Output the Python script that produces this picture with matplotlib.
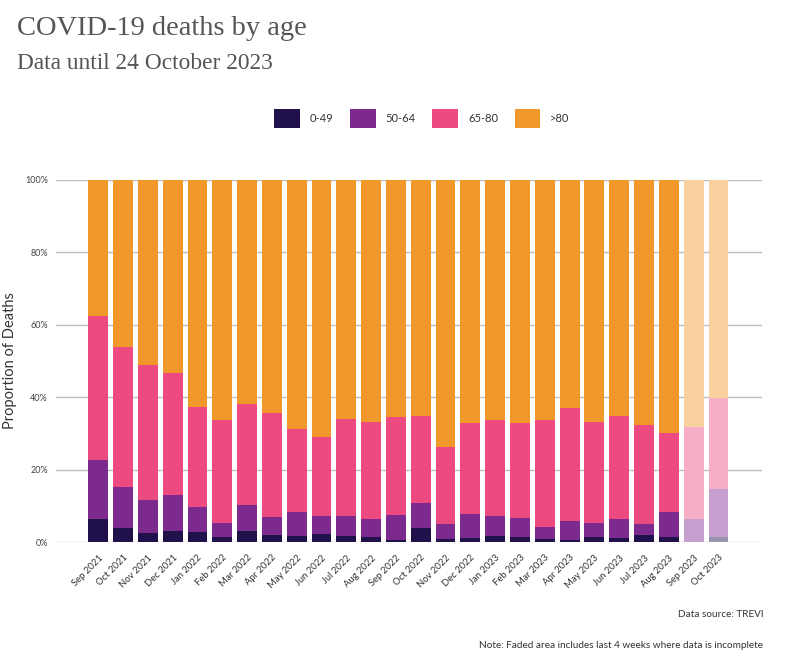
import numpy as np
import matplotlib.pyplot as plt
from matplotlib.patches import Patch
from matplotlib.colors import to_rgb

# Data (share of deaths per month, %)
months = ['Sep 2021', 'Oct 2021', 'Nov 2021', 'Dec 2021', 'Jan 2022', 'Feb 2022',
          'Mar 2022', 'Apr 2022', 'May 2022', 'Jun 2022', 'Jul 2022', 'Aug 2022',
          'Sep 2022', 'Oct 2022', 'Nov 2022', 'Dec 2022', 'Jan 2023', 'Feb 2023',
          'Mar 2023', 'Apr 2023', 'May 2023', 'Jun 2023', 'Jul 2023', 'Aug 2023',
          'Sep 2023', 'Oct 2023']
age_groups = ['0-49', '50-64', '65-80', '>80']

age_0_49 = [6.3, 4.0, 2.4, 3.0, 2.8, 1.4, 3.0, 2.1, 1.7, 2.3, 1.8, 1.4, 0.5,
            4.0, 0.9, 1.2, 1.7, 1.4, 0.9, 0.6, 1.4, 1.2, 1.9, 1.3, 0.0, 1.4]
age_50_64 = [16.5, 11.1, 9.2, 10.0, 6.9, 4.0, 7.3, 4.9, 6.6, 5.0, 5.4, 4.9, 6.9,
             6.8, 4.2, 6.7, 5.5, 5.2, 3.4, 5.2, 3.8, 5.3, 3.2, 7.0, 6.3, 13.2]
age_65_80 = [39.5, 38.8, 37.3, 33.7, 27.6, 28.2, 27.8, 28.7, 22.8, 21.6, 26.8, 26.9, 27.1,
             23.9, 21.2, 25.0, 26.6, 26.3, 29.5, 31.2, 28.0, 28.2, 27.2, 21.7, 25.5, 25.2]
age_over_80 = [37.7, 46.1, 51.1, 53.3, 62.7, 66.4, 61.9, 64.3, 68.9, 71.1, 66.0, 66.8, 65.5,
               65.3, 73.7, 67.1, 66.2, 67.1, 66.2, 63.0, 66.8, 65.3, 67.7, 70.0, 68.2, 60.2]
incomplete = [False] * 24 + [True, True]  # last 4 weeks, data incomplete

colors = ['#21114a', '#7d2a8f', '#ec4a81', '#f0992a']


def faded(c, a=0.45):
    r = np.array(to_rgb(c))
    return tuple(r * a + (1 - a))


fig = plt.figure(figsize=(7.9, 6.66), dpi=100)
ax = fig.add_axes([0.071, 0.186, 0.894, 0.544])

x = np.arange(len(months))
bottom = np.zeros(len(months))
series = [age_0_49, age_50_64, age_65_80, age_over_80]
for vals, col in zip(series, colors):
    vals = np.array(vals)
    bar_cols = [faded(col) if inc else col for inc in incomplete]
    ax.bar(x, vals, bottom=bottom, width=0.8, color=bar_cols, zorder=3)
    bottom += vals

ax.set_xlim(-1.7, len(months) - 1 + 1.77)
ax.set_ylim(0, 100)
ax.set_yticks([0, 20, 40, 60, 80, 100])
ax.set_yticklabels([f'{v}%' for v in [0, 20, 40, 60, 80, 100]], fontsize=6.5,
                   color='#444444', family='Lato')
ax.yaxis.grid(True, color='#bdbdbd', linewidth=1, zorder=0)
ax.tick_params(axis='both', length=0)
ax.tick_params(axis='y', pad=6)
for s in ax.spines.values():
    s.set_visible(False)
ax.set_xticks(x)
ax.set_xticklabels(months, rotation=45, ha='right', rotation_mode='anchor',
                   fontsize=6.8, color='#333333', family='Lato')
ax.tick_params(axis='x', pad=8)
ax.set_ylabel('Proportion of Deaths', fontsize=10.5, color='#333333', family='Lato', labelpad=6)

fig.text(0.022, 0.957, 'COVID-19 deaths by age', fontsize=20.5, family='Liberation Serif',
         color='#555555', va='center')
fig.text(0.022, 0.904, 'Data until 24 October 2023', fontsize=16.8, family='Liberation Serif',
         color='#555555', va='center')

handles = [Patch(facecolor=c, edgecolor='none') for c in colors]
fig.legend(handles, age_groups, loc='center', bbox_to_anchor=(0.534, 0.822), ncol=4,
           frameon=False, prop={'family': 'Lato', 'size': 8},
           handlelength=2.3, handleheight=2.3, columnspacing=1.5, handletextpad=0.9,
           labelcolor='#333333')

fig.text(0.966, 0.078, 'Data source: TREVI', fontsize=7.2, family='Lato',
         color='#333333', ha='right', va='center')
fig.text(0.966, 0.031, 'Note: Faded area includes last 4 weeks where data is incomplete',
         fontsize=7.2, family='Lato', color='#333333', ha='right', va='center')

fig.savefig('out.png', dpi=100)
